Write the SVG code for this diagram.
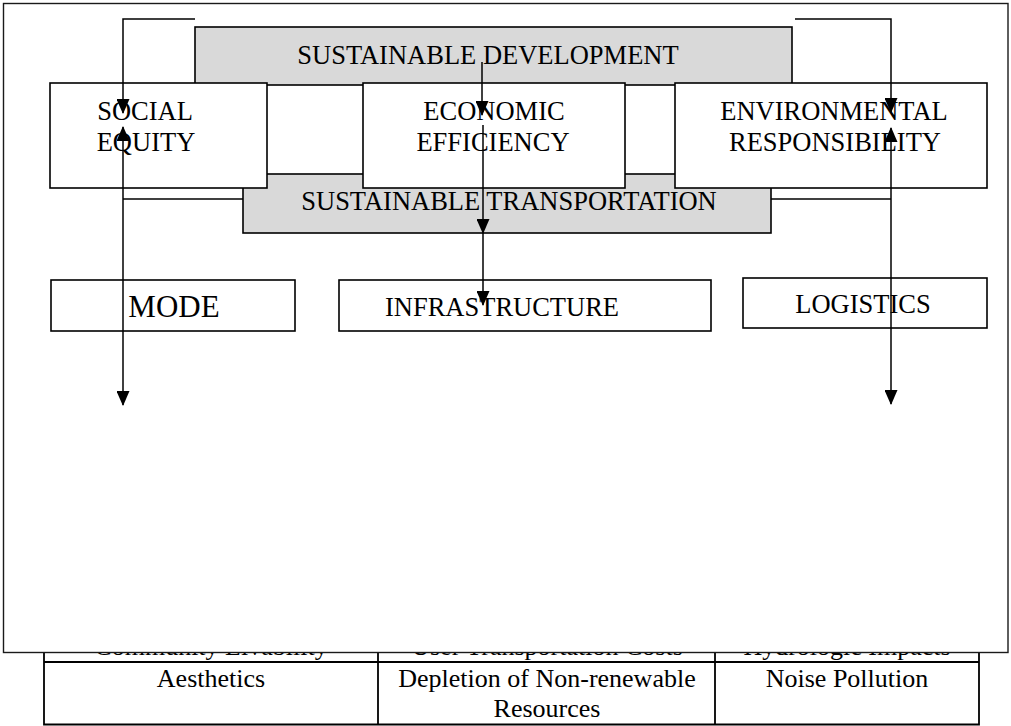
<svg xmlns="http://www.w3.org/2000/svg" width="1011" height="726" viewBox="0 0 1011 726">
  <style>
    .t{font-family:"Liberation Serif","Times New Roman",serif;font-size:26.5px;fill:#000;text-anchor:middle}
    .cell{font-size:26px}
    .box{fill:#fff;stroke:#000;stroke-width:1.6}
    .gray{fill:#d9d9d9;stroke:#000;stroke-width:1.6}
    .frame{fill:#fff;stroke:#1a1a1a;stroke-width:1.4}
    .ln{fill:none;stroke:#000;stroke-width:1.5}
    .tbl{fill:none;stroke:#000;stroke-width:1.8}
  </style>
  <defs>
    <marker id="ah" viewBox="0 0 15 13" refX="14" refY="6.5" markerWidth="15" markerHeight="13" markerUnits="userSpaceOnUse" orient="auto-start-reverse">
      <path d="M0,0 L15,6.5 L0,13 z" fill="#000"/>
    </marker>
    <clipPath id="below-frame"><rect x="0" y="653" width="1011" height="73"/></clipPath>
  </defs>

  <!-- impacts table, partly hidden beneath the diagram frame -->
  <g id="impacts-table">
    <g clip-path="url(#below-frame)">
      <text class="t cell" x="211" y="655">Community Livability</text>
      <text class="t cell" x="547" y="655">User Transportation Costs</text>
      <text class="t cell" x="847" y="655">Hydrologic Impacts</text>
    </g>
    <path class="tbl" d="M44,662 H979 M44,724.5 H979 M44,640 V725.4 M378,640 V725.4 M715,640 V725.4 M979,640 V725.4"/>
    <text class="t cell" x="211" y="687">Aesthetics</text>
    <text class="t cell" x="547" y="687">Depletion of Non-renewable</text>
    <text class="t cell" x="547" y="717">Resources</text>
    <text class="t cell" x="847" y="687">Noise Pollution</text>
  </g>

  <!-- diagram frame -->
  <rect id="frame" class="frame" x="3.5" y="3.5" width="1004.5" height="649"/>

  <g id="sustainable-development">
    <rect class="gray" x="195" y="27" width="597" height="58"/>
    <text class="t" x="488" y="64">SUSTAINABLE DEVELOPMENT</text>
  </g>

  <g id="sustainable-transportation">
    <rect class="gray" x="243" y="174" width="528" height="59"/>
    <text class="t" x="509" y="210">SUSTAINABLE TRANSPORTATION</text>
  </g>

  <g id="social-equity">
    <rect class="box" x="50" y="83" width="217" height="105"/>
    <text class="t" x="145" y="120">SOCIAL</text>
    <text class="t" x="146" y="151">EQUITY</text>
  </g>

  <g id="economic-efficiency">
    <rect class="box" x="363" y="83" width="262" height="105"/>
    <text class="t" x="494" y="120">ECONOMIC</text>
    <text class="t" x="493" y="151">EFFICIENCY</text>
  </g>

  <g id="environmental-responsibility">
    <rect class="box" x="675" y="83" width="312" height="105"/>
    <text class="t" x="834" y="120">ENVIRONMENTAL</text>
    <text class="t" x="835" y="151">RESPONSIBILITY</text>
  </g>

  <g id="mode">
    <rect class="box" x="51" y="280" width="244" height="51"/>
    <text class="t" x="174" y="317" style="font-size:31px">MODE</text>
  </g>

  <g id="infrastructure">
    <rect class="box" x="339" y="280" width="372" height="51"/>
    <text class="t" x="502" y="316">INFRASTRUCTURE</text>
  </g>

  <g id="logistics">
    <rect class="box" x="743" y="278" width="244" height="50"/>
    <text class="t" x="863" y="313">LOGISTICS</text>
  </g>

  <!-- connectors -->
  <g id="connectors">
    <path class="ln" d="M195,19 H123 V113" marker-end="url(#ah)"/>
    <path class="ln" d="M795,19 H891 V112" marker-end="url(#ah)"/>
    <path class="ln" d="M482,62 V115" marker-end="url(#ah)"/>
    <path class="ln" d="M483,125 V233" marker-end="url(#ah)"/>
    <path class="ln" d="M483,233 V305" marker-end="url(#ah)"/>
    <path class="ln" d="M123,127 V405" marker-start="url(#ah)" marker-end="url(#ah)"/>
    <path class="ln" d="M891,128 V404" marker-start="url(#ah)" marker-end="url(#ah)"/>
    <path class="ln" d="M123,199 H243"/>
    <path class="ln" d="M771,199 H891"/>
  </g>
</svg>
